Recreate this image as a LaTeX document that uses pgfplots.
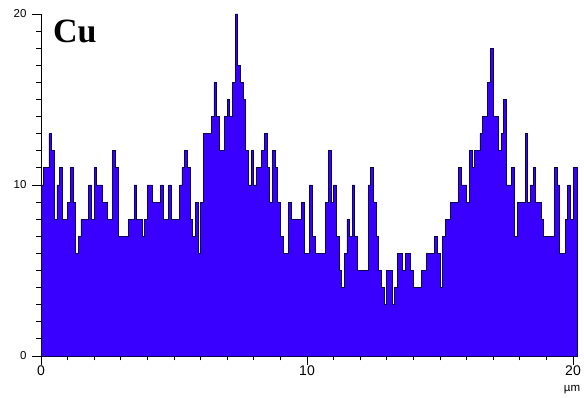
\documentclass[border=0pt]{standalone}
\usepackage{pgfplots}
\pgfplotsset{compat=1.18}
\usepackage{fontspec}
\setmainfont{Liberation Sans}
\newfontfamily\serifbold{Liberation Serif}

\definecolor{cufill}{RGB}{58,0,255}
\definecolor{cuedge}{RGB}{8,0,80}

\begin{document}
\begin{tikzpicture}
\begin{axis}[
  at={(0,0)}, anchor=south west,
  scale only axis,
  width=536pt, height=342pt,
  xmin=0, xmax=20.15, ymin=0, ymax=20,
  axis x line*=bottom, axis y line*=left,
  axis line style={-, black, line width=0.9pt},
  xtick={0,10,20}, ytick={0,10,20},
  minor x tick num=9, minor y tick num=9,
  tick align=outside,
  major tick length=9pt, minor tick length=4.5pt,
  tick style={black, line width=0.8pt},
  /pgf/number format/assume math mode=true,
  xticklabel style={font=\fontsize{14}{15}\selectfont, yshift=3pt},
  yticklabel style={font=\fontsize{11.5}{13}\selectfont, xshift=-2pt},
  clip=false,
]
% Cu counts along the line scan, 0.1 um bins
\addplot[const plot mark left, fill=cufill, draw=cuedge, line width=0.8pt] table {
x y
0.0 10
0.1 11
0.2 11
0.3 13
0.4 12
0.5 8
0.6 10
0.7 11
0.8 8
0.9 8
1.0 9
1.1 11
1.2 9
1.3 6
1.4 7
1.5 8
1.6 8
1.7 8
1.8 10
1.9 8
2.0 11
2.1 10
2.2 10
2.3 9
2.4 9
2.5 8
2.6 8
2.7 12
2.8 11
2.9 7
3.0 7
3.1 7
3.2 7
3.3 8
3.4 8
3.5 10
3.6 8
3.7 8
3.8 7
3.9 8
4.0 10
4.1 10
4.2 9
4.3 9
4.4 9
4.5 10
4.6 8
4.7 8
4.8 10
4.9 8
5.0 8
5.1 8
5.2 10
5.3 11
5.4 12
5.5 11
5.6 8
5.7 7
5.8 9
5.9 6
6.0 9
6.1 13
6.2 13
6.3 13
6.4 14
6.5 16
6.6 14
6.7 12
6.8 12
6.9 14
7.0 15
7.1 14
7.2 16
7.3 20
7.4 17
7.5 16
7.6 15
7.7 12
7.8 10
7.9 12
8.0 10
8.1 11
8.2 11
8.3 12
8.4 13
8.5 11
8.6 9
8.7 12
8.8 11
8.9 9
9.0 7
9.1 6
9.2 6
9.3 9
9.4 8
9.5 8
9.6 8
9.7 8
9.8 9
9.9 6
10.0 6
10.1 10
10.2 7
10.3 6
10.4 6
10.5 6
10.6 6
10.7 9
10.8 12
10.9 9
11.0 10
11.1 7
11.2 5
11.3 4
11.4 6
11.5 8
11.6 7
11.7 10
11.8 7
11.9 5
12.0 5
12.1 5
12.2 5
12.3 10
12.4 11
12.5 9
12.6 7
12.7 5
12.8 4
12.9 3
13.0 5
13.1 5
13.2 3
13.3 4
13.4 6
13.5 6
13.6 5
13.7 6
13.8 6
13.9 5
14.0 4
14.1 4
14.2 4
14.3 5
14.4 5
14.5 6
14.6 6
14.7 6
14.8 7
14.9 6
15.0 4
15.1 7
15.2 8
15.3 8
15.4 9
15.5 9
15.6 9
15.7 11
15.8 10
15.9 10
16.0 9
16.1 12
16.2 11
16.3 12
16.4 12
16.5 13
16.6 14
16.7 14
16.8 16
16.9 18
17.0 14
17.1 14
17.2 12
17.3 13
17.4 15
17.5 10
17.6 10
17.7 11
17.8 7
17.9 9
18.0 9
18.1 9
18.2 13
18.3 9
18.4 10
18.5 11
18.6 9
18.7 9
18.8 8
18.9 7
19.0 7
19.1 7
19.2 7
19.3 11
19.4 10
19.5 6
19.6 6
19.7 8
19.8 10
19.9 8
20.0 11
20.15 11
} \closedcycle;
\node[font=\serifbold\bfseries\fontsize{34}{36}\selectfont, anchor=base west, inner sep=0pt]
  at (rel axis cs:0,0) [xshift=12pt, yshift=313pt] {Cu};
\node[font=\fontsize{11.5}{13}\selectfont, anchor=north, inner sep=0pt]
  at (axis cs:20,0) [xshift=-1pt, yshift=-29pt] {µm};
\end{axis}
\pgfresetboundingbox
\path[use as bounding box] (-41pt,-42pt) rectangle (543pt,356pt);
\end{tikzpicture}
\end{document}
